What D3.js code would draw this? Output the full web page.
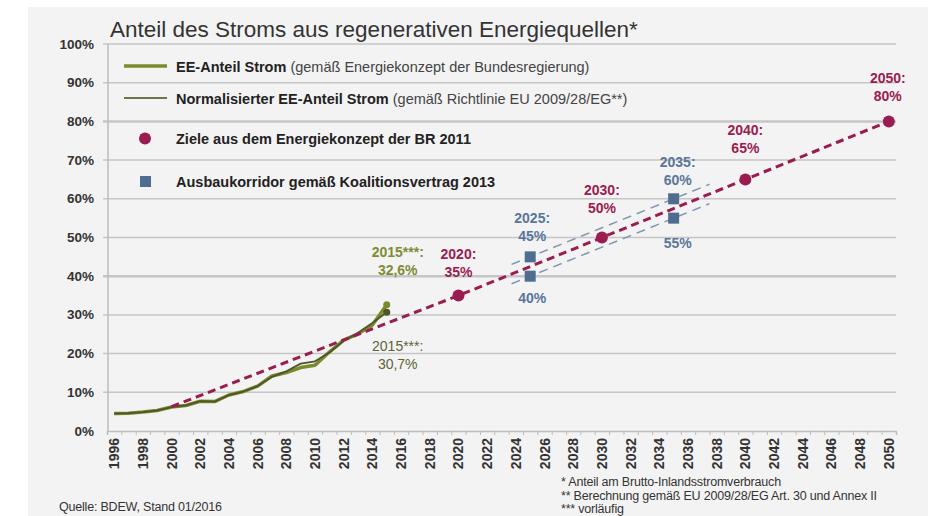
<!DOCTYPE html>
<html>
<head>
<meta charset="utf-8">
<script src="https://cdn.jsdelivr.net/npm/d3@7"></script>
<style>
  body { margin: 0; background: #fff; }
  svg { font-family: "Liberation Sans", Arial, sans-serif; }
</style>
</head>
<body>
<svg width="937" height="516"></svg>
<script>
var years = [1996,1997,1998,1999,2000,2001,2002,2003,2004,2005,2006,2007,2008,2009,2010,2011,2012,2013,2014,2015];
var eeAnteil = [4.5,4.6,4.9,5.3,6.2,6.6,7.7,7.6,9.3,10.2,11.6,14.2,15.1,16.4,17.0,20.4,23.5,25.1,27.4,32.6];
var eeNormal = [4.5,4.6,4.9,5.3,6.2,6.6,7.7,7.6,9.3,10.2,11.6,14.0,15.4,17.4,18.0,20.3,23.3,25.4,27.9,30.7];

var zielJahre = [2000,2020,2030,2040,2050];
var zielWerte = [6.3,35,50,65,80];

var korridorJahre = [2025,2035];
var korridorOben = [45,60];
var korridorUnten = [40,55];

var yTicks = [0,10,20,30,40,50,60,70,80,90,100];
var xLabelYears = d3.range(1996, 2051, 2);

var purple = "#9a1c50", blue = "#4e6d90", blueLight = "#7f95b1";
var green = "#7b8b2c", olive = "#4d5529";

var svg = d3.select("svg");

// panel background
svg.append("rect")
  .attr("x", 28).attr("y", 7)
  .attr("width", 900).attr("height", 520)
  .attr("fill", "#f3f3f3");

var x = d3.scaleLinear().domain([1995.5, 2050.5]).range([107, 896]);
var y = d3.scaleLinear().domain([0, 100]).range([431, 44]);

// title
svg.append("text")
  .attr("x", 110).attr("y", 37)
  .attr("font-size", 22.5)
  .attr("fill", "#333")
  .text("Anteil des Stroms aus regenerativen Energiequellen*");

// gridlines
svg.append("g").selectAll("line")
  .data(yTicks.slice(1))
  .join("line")
    .attr("x1", 103).attr("x2", 896)
    .attr("y1", d => y(d)).attr("y2", d => y(d))
    .attr("stroke", "#c6c6c6")
    .attr("stroke-width", d => (d === 40 || d === 80) ? 2.5 : 1.5);

// y labels
svg.append("g").selectAll("text")
  .data(yTicks)
  .join("text")
    .attr("x", 94)
    .attr("y", d => y(d) + 4.5)
    .attr("text-anchor", "end")
    .attr("font-size", 13.5)
    .attr("font-weight", "bold")
    .attr("fill", "#333")
    .text(d => d + "%");

// y axis line
svg.append("line")
  .attr("x1", 108).attr("x2", 108)
  .attr("y1", y(100)).attr("y2", y(0))
  .attr("stroke", "#bdbdbd").attr("stroke-width", 1.5);

// x axis: ticks at year boundaries
var xAxis = d3.axisBottom(x)
  .tickValues(d3.range(1995.5, 2051, 1))
  .tickSize(4)
  .tickFormat("");
var gx = svg.append("g")
  .attr("transform", "translate(0," + y(0) + ")")
  .call(xAxis);
gx.select(".domain").attr("stroke", "#bdbdbd").attr("stroke-width", 1.5);
gx.selectAll(".tick line").attr("stroke", "#bdbdbd");

svg.append("g").selectAll("text")
  .data(xLabelYears)
  .join("text")
    .attr("transform", d => "translate(" + (x(d) + 5) + ",438) rotate(-90)")
    .attr("text-anchor", "end")
    .attr("font-size", 14)
    .attr("font-weight", "bold")
    .attr("fill", "#333")
    .text(d => d);

// historical lines
var line = d3.line().x(d => x(d[0])).y(d => y(d[1]));
svg.append("path")
  .datum(years.map((d, i) => [d, eeAnteil[i]]))
  .attr("d", line)
  .attr("fill", "none")
  .attr("stroke", green).attr("stroke-width", 3.5)
  .attr("stroke-linejoin", "round");
svg.append("path")
  .datum(years.map((d, i) => [d, eeNormal[i]]))
  .attr("d", line)
  .attr("fill", "none")
  .attr("stroke", olive).attr("stroke-width", 1.8)
  .attr("stroke-linejoin", "round");
svg.append("circle")
  .attr("cx", x(2015)).attr("cy", y(eeAnteil[eeAnteil.length - 1]))
  .attr("r", 3.5).attr("fill", green);
svg.append("circle")
  .attr("cx", x(2015)).attr("cy", y(eeNormal[eeNormal.length - 1]))
  .attr("r", 3.5).attr("fill", olive);

// corridor dashed lines (extended a bit beyond the markers)
var extJahre = [2023.7, 2037.5];
[korridorOben, korridorUnten].forEach(function (vals) {
  var f = d3.scaleLinear().domain(korridorJahre).range(vals);
  svg.append("path")
    .datum(extJahre.map(j => [j, f(j)]))
    .attr("d", line)
    .attr("fill", "none")
    .attr("stroke", blueLight).attr("stroke-width", 1.5)
    .attr("stroke-dasharray", "9,6");
});

// target dashed line
svg.append("path")
  .datum(zielJahre.map((d, i) => [d, zielWerte[i]]))
  .attr("d", line)
  .attr("fill", "none")
  .attr("stroke", purple).attr("stroke-width", 3)
  .attr("stroke-dasharray", "8,5");

// corridor squares
var sq = 11;
korridorJahre.forEach(function (j, i) {
  [korridorOben[i], korridorUnten[i]].forEach(function (v) {
    svg.append("rect")
      .attr("x", x(j) - sq / 2).attr("y", y(v) - sq / 2)
      .attr("width", sq).attr("height", sq)
      .attr("fill", blue);
  });
});

// target dots
svg.append("g").selectAll("circle")
  .data(zielJahre.slice(1).map((d, i) => [d, zielWerte[i + 1]]))
  .join("circle")
    .attr("cx", d => x(d[0])).attr("cy", d => y(d[1]))
    .attr("r", 6).attr("fill", purple);

// annotations
function label(lines, cx, cy, color, weight) {
  var t = svg.append("text")
    .attr("text-anchor", "middle")
    .attr("font-size", 14)
    .attr("font-weight", weight || "bold")
    .attr("fill", color);
  lines.forEach(function (s, i) {
    t.append("tspan").attr("x", cx).attr("y", cy + i * 18).text(s);
  });
}
label(["2015***:", "32,6%"], x(2015) + 11, y(eeAnteil[19]) - 48, "#7f8c35");
label(["2015***:", "30,7%"], x(2015) + 11, y(eeNormal[19]) + 39, "#5e6438", "normal");
label(["2020:", "35%"], x(2020), y(35) - 37, purple);
label(["2030:", "50%"], x(2030), y(50) - 43, purple);
label(["2040:", "65%"], x(2040), y(65) - 44, purple);
label(["2050:", "80%"], x(2050) - 1, y(80) - 38, purple);
label(["2025:", "45%"], x(2025) + 2, y(korridorOben[0]) - 34, "#5a7699");
label(["40%"], x(2025) + 2, y(korridorUnten[0]) + 27, "#5a7699");
label(["2035:", "60%"], x(2035) + 4, y(korridorOben[1]) - 32, "#5a7699");
label(["55%"], x(2035) + 4, y(korridorUnten[1]) + 30, "#5a7699");

// legend
var leg = svg.append("g");
leg.append("line").attr("x1", 124).attr("x2", 167).attr("y1", 66).attr("y2", 66)
  .attr("stroke", green).attr("stroke-width", 3.5);
leg.append("line").attr("x1", 124).attr("x2", 167).attr("y1", 98).attr("y2", 98)
  .attr("stroke", "#6d7446").attr("stroke-width", 1.8);
leg.append("circle").attr("cx", 145).attr("cy", 138.5).attr("r", 6).attr("fill", purple);
leg.append("rect").attr("x", 140).attr("y", 176).attr("width", 11).attr("height", 11).attr("fill", blue);

var legendItems = [
  ["EE-Anteil Strom", " (gemäß Energiekonzept der Bundesregierung)", 71.5],
  ["Normalisierter EE-Anteil Strom", " (gemäß Richtlinie EU 2009/28/EG**)", 103.5],
  ["Ziele aus dem Energiekonzept der BR 2011", "", 144],
  ["Ausbaukorridor gemäß Koalitionsvertrag 2013", "", 186.5]
];
legendItems.forEach(function (it) {
  var t = leg.append("text").attr("x", 176).attr("y", it[2])
    .attr("font-size", 14.5).attr("fill", "#222");
  t.append("tspan").attr("font-weight", "bold").text(it[0]);
  t.append("tspan").attr("fill", "#444").text(it[1]);
});

// footnotes
var notes = ["* Anteil am Brutto-Inlandsstromverbrauch",
             "** Berechnung gemäß EU 2009/28/EG Art. 30 und Annex II",
             "*** vorläufig"];
svg.append("g").selectAll("text")
  .data(notes)
  .join("text")
    .attr("x", 561)
    .attr("y", (d, i) => 486 + i * 13.5)
    .attr("font-size", 12.5)
    .attr("fill", "#333")
    .attr("letter-spacing", -0.2)
    .text(d => d);
svg.append("text")
  .attr("x", 59).attr("y", 511)
  .attr("font-size", 12.5).attr("fill", "#333")
  .attr("letter-spacing", -0.2)
  .text("Quelle: BDEW, Stand 01/2016");
</script>
</body>
</html>
